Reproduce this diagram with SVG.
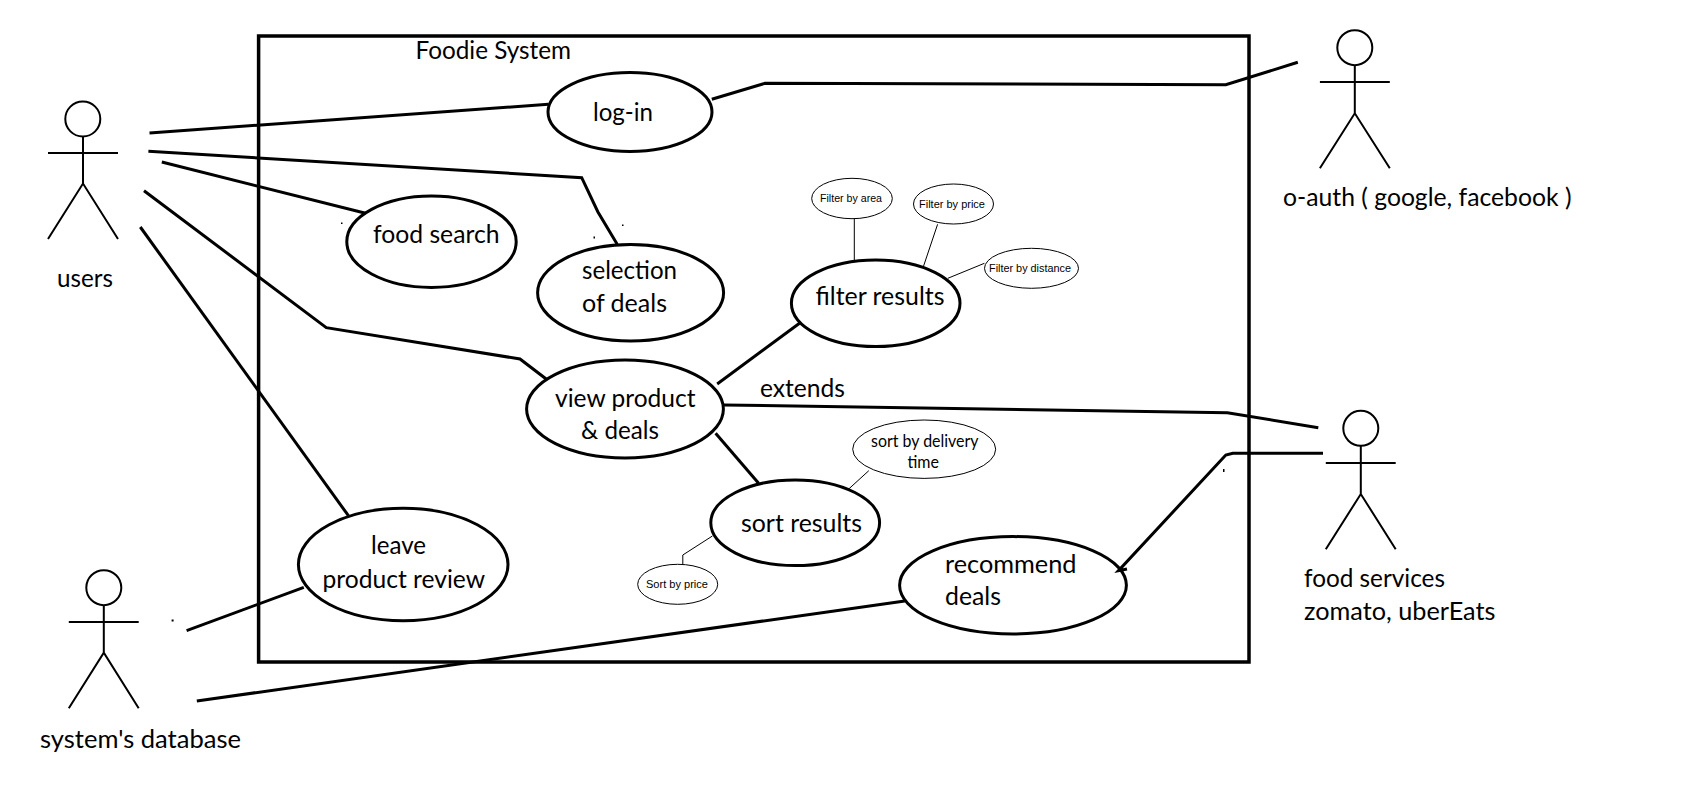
<svg xmlns="http://www.w3.org/2000/svg" width="1686" height="801" viewBox="0 0 1686 801">
<style>
text{font-family:Lato,"Liberation Sans",sans-serif;font-size:25px;fill:#000}
text.m{font-size:17px}
text.s{font-family:"Liberation Sans",Arial,sans-serif;font-size:11.5px}
.b{fill:#fff;stroke:#000;stroke-width:3}
.t{fill:#fff;stroke:#000;stroke-width:1}
.c{fill:none;stroke:#000;stroke-width:3;stroke-linejoin:miter}
.d{fill:none;stroke:#000;stroke-width:1}
.a{fill:none;stroke:#000;stroke-width:2}
.h{fill:#000}
</style>
<rect width="1686" height="801" fill="#fff"/>
<g id="system">
<rect x="258.6" y="36" width="990.4" height="626" fill="none" stroke="#000" stroke-width="3.5"/>
<text x="415.5" y="59" textLength="155.5" lengthAdjust="spacingAndGlyphs">Foodie System</text>
</g>
<g id="actor-users">
<ellipse class="a" cx="82.8" cy="119" rx="17.5" ry="17.5"/>
<path class="a" d="M83 136.5V183.5M48 153H118M48 239L83 183.5L118 239"/>
<text x="57" y="287" textLength="56" lengthAdjust="spacingAndGlyphs">users</text>
</g>
<g id="actor-oauth">
<ellipse class="a" cx="1354.8" cy="47.7" rx="17.5" ry="17.5"/>
<path class="a" d="M1354.8 65.2V113.3M1319.9 82H1389.8M1319.9 168.3L1354.8 113.3L1389.8 168.3"/>
<text x="1283" y="206" textLength="288.5" lengthAdjust="spacingAndGlyphs">o-auth ( google, facebook )</text>
</g>
<g id="actor-database">
<ellipse class="a" cx="103.8" cy="587.7" rx="17.5" ry="17.5"/>
<path class="a" d="M103.8 605.2V652.7M68.8 622H138.7M68.8 708.3L103.8 652.7L138.7 708.3"/>
<text x="40" y="748" textLength="201" lengthAdjust="spacingAndGlyphs">system's database</text>
</g>
<g id="actor-food-services">
<ellipse class="a" cx="1360.8" cy="428.3" rx="17.5" ry="17.5"/>
<path class="a" d="M1360.8 445.8V494M1325.8 463H1395.7M1325.8 549.3L1360.8 494L1395.7 549.3"/>
<text x="1304" y="587" textLength="141" lengthAdjust="spacingAndGlyphs">food services</text>
<text x="1304" y="620" textLength="191.5" lengthAdjust="spacingAndGlyphs">zomato, uberEats</text>
</g>
<g id="uc-login">
<ellipse class="b" cx="630" cy="112" rx="82" ry="39.5"/>
<text x="593" y="121" textLength="60" lengthAdjust="spacingAndGlyphs">log-in</text>
</g>
<g id="uc-food-search">
<ellipse class="b" cx="431.5" cy="241.7" rx="84.7" ry="45.7"/>
<text x="373" y="243" textLength="126.5" lengthAdjust="spacingAndGlyphs">food search</text>
</g>
<g id="uc-selection">
<ellipse class="b" cx="630.6" cy="292.7" rx="93" ry="48.3"/>
<text x="582" y="279" textLength="95" lengthAdjust="spacingAndGlyphs">selection</text>
<text x="582" y="312" textLength="85" lengthAdjust="spacingAndGlyphs">of deals</text>
</g>
<g id="uc-view">
<ellipse class="b" cx="625" cy="409" rx="98.4" ry="49"/>
<text x="555" y="407" textLength="140.5" lengthAdjust="spacingAndGlyphs">view product</text>
<text x="581" y="439" textLength="78" lengthAdjust="spacingAndGlyphs">&amp; deals</text>
</g>
<g id="uc-filter">
<ellipse class="b" cx="875.7" cy="303.3" rx="84.3" ry="43.3"/>
<text x="815.5" y="305" textLength="129" lengthAdjust="spacingAndGlyphs">filter results</text>
</g>
<g id="uc-sort">
<ellipse class="b" cx="795.2" cy="522.8" rx="84.4" ry="42.8"/>
<text x="741" y="532" textLength="121" lengthAdjust="spacingAndGlyphs">sort results</text>
</g>
<g id="uc-review">
<ellipse class="b" cx="403.2" cy="564.5" rx="104.8" ry="56.2"/>
<text x="371" y="554" textLength="55" lengthAdjust="spacingAndGlyphs">leave</text>
<text x="322.5" y="588" textLength="162.5" lengthAdjust="spacingAndGlyphs">product review</text>
</g>
<g id="uc-recommend">
<ellipse class="b" cx="1013" cy="585.3" rx="113.4" ry="48.7"/>
<text x="945" y="573" textLength="131.5" lengthAdjust="spacingAndGlyphs">recommend</text>
<text x="945" y="605" textLength="56" lengthAdjust="spacingAndGlyphs">deals</text>
</g>
<g id="label-extends">
<text x="760" y="397" textLength="85" lengthAdjust="spacingAndGlyphs">extends</text>
</g>
<g id="opt-filter-area">
<ellipse class="t" cx="852" cy="198.5" rx="40.3" ry="20.2"/>
<text class="s" x="820" y="202" textLength="62" lengthAdjust="spacingAndGlyphs">Filter by area</text>
</g>
<g id="opt-filter-price">
<ellipse class="t" cx="953.5" cy="204" rx="40" ry="20"/>
<text class="s" x="919" y="208" textLength="66" lengthAdjust="spacingAndGlyphs">Filter by price</text>
</g>
<g id="opt-filter-distance">
<ellipse class="t" cx="1031.5" cy="268.3" rx="47" ry="20"/>
<text class="s" x="989" y="272" textLength="82" lengthAdjust="spacingAndGlyphs">Filter by distance</text>
</g>
<g id="opt-sort-price">
<ellipse class="t" cx="677.7" cy="584.3" rx="40" ry="20"/>
<text class="s" x="646" y="588" textLength="62" lengthAdjust="spacingAndGlyphs">Sort by price</text>
</g>
<g id="opt-sort-delivery">
<ellipse class="t" cx="924.2" cy="449.2" rx="71.5" ry="29.2"/>
<text class="m" x="871" y="447" textLength="107.5" lengthAdjust="spacingAndGlyphs">sort by delivery</text>
<text class="m" x="907.5" y="468" textLength="31.5" lengthAdjust="spacingAndGlyphs">time</text>
</g>
<g id="connectors">
<polyline class="c" points="149.5,133 548.4,104.3"/>
<polyline class="c" points="711.8,99.3 765,83.3 1225.8,84.7 1297.8,62.3"/>
<polyline class="c" points="148.4,151.3 581.7,177.7 597.8,211.7 617.2,244.3"/>
<polyline class="c" points="161.8,162 365.6,213.3"/>
<polyline class="c" points="144,190.7 326.3,327.7 520,359 546.2,379"/>
<polyline class="c" points="140.3,227 348.4,515.7"/>
<polyline class="c" points="186.6,630.7 303.8,587.3"/>
<polyline class="c" points="196.8,701 904.8,601"/>
<polyline class="c" points="717.2,384 799.5,323.3"/>
<polyline class="c" points="715.6,433.3 758.6,483.3"/>
<polyline class="c" points="723.7,405 1227.4,412.7 1318.3,427.7"/>
<polyline class="c" points="1323,453.3 1232.8,453.3 1225.8,455 1118.5,570.7 1127,569"/>
<polyline class="d" points="854.3,218.7 854.3,260"/>
<polyline class="d" points="937.6,224.3 923.6,266"/>
<polyline class="d" points="984.4,263.3 947.8,278.3"/>
<polyline class="d" points="712.4,536 682.8,555 682.8,564.3"/>
<polyline class="d" points="868.8,470.7 848.4,489.3"/>
<rect class="h" x="171.6" y="619.5" width="2" height="2"/>
<rect class="h" x="341" y="222.5" width="1.5" height="1.5"/>
<rect class="h" x="622" y="224.5" width="1.5" height="1.5"/>
<rect class="h" x="593.5" y="236.5" width="1.5" height="2"/>
<rect class="h" x="1223" y="469" width="1.5" height="3"/>
</g>
</svg>
